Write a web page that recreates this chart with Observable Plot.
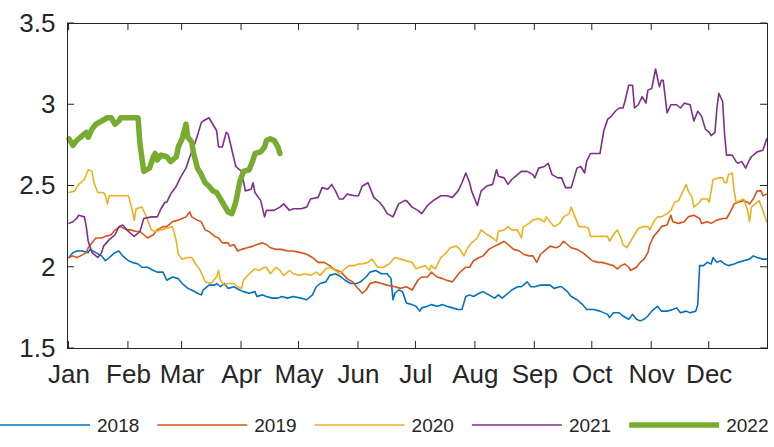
<!DOCTYPE html>
<html><head><meta charset="utf-8">
<script src="https://cdn.jsdelivr.net/npm/d3@7"></script>
<script src="https://cdn.jsdelivr.net/npm/@observablehq/plot@0.6"></script>
<style>body{margin:0;background:#fff;font-family:"Liberation Sans",Arial,sans-serif}#legend svg,#chart svg{display:block}</style>
</head><body><div id="chart"></div><div id="legend"></div>
<script>
const years = ["2018","2019","2020","2021","2022"];
const colors = ["#0072BD","#D95319","#EDB120","#7E2F8E","#77AC30"];
const widths = [1.6,1.6,1.6,1.6,5.5];
const monthDays = [1,32,60,91,121,152,182,213,244,274,305,335];
const monthLabels = ["Jan","Feb","Mar","Apr","May","Jun","Jul","Aug","Sep","Oct","Nov","Dec"];
const yTicks = [1.5,2,2.5,3,3.5];

// [day of year, value]
const s2018 = [[1,2.06],[3,2.09],[5,2.10],[8,2.10],[11,2.09],[12,2.11],[15,2.09],[18,2.07],[20,2.04],[22,2.06],[25,2.09],[27,2.10],[29,2.07],[32,2.04],[34,2.03],[37,2.02],[39,2.00],[42,2.00],[45,1.98],[47,1.97],[50,1.97],[52,1.92],[55,1.94],[58,1.93],[60,1.90],[63,1.87],[65,1.86],[68,1.84],[70,1.83],[71,1.86],[74,1.89],[77,1.89],[78,1.90],[80,1.88],[82,1.90],[84,1.87],[87,1.88],[90,1.86],[92,1.85],[95,1.84],[98,1.85],[99,1.82],[102,1.83],[104,1.82],[107,1.81],[110,1.81],[112,1.82],[115,1.81],[118,1.82],[122,1.81],[125,1.80],[128,1.83],[130,1.88],[132,1.90],[135,1.91],[137,1.95],[140,1.96],[143,1.94],[145,1.92],[148,1.90],[151,1.90],[153,1.91],[156,1.94],[158,1.97],[161,1.98],[164,1.96],[167,1.96],[169,1.93],[170,1.80],[171,1.84],[173,1.86],[175,1.85],[177,1.78],[180,1.77],[182,1.76],[184,1.73],[185,1.75],[188,1.76],[190,1.77],[193,1.76],[196,1.77],[198,1.76],[201,1.75],[204,1.74],[206,1.74],[208,1.82],[210,1.83],[212,1.82],[215,1.84],[217,1.85],[220,1.83],[223,1.81],[225,1.83],[227,1.81],[230,1.84],[232,1.86],[235,1.88],[237,1.88],[240,1.91],[242,1.88],[244,1.88],[247,1.89],[250,1.89],[252,1.89],[254,1.87],[257,1.88],[258,1.88],[261,1.85],[263,1.82],[266,1.80],[269,1.77],[271,1.74],[275,1.74],[278,1.73],[282,1.71],[283,1.69],[285,1.72],[288,1.72],[290,1.70],[293,1.68],[295,1.71],[297,1.68],[299,1.67],[301,1.68],[303,1.70],[305,1.73],[308,1.76],[310,1.73],[313,1.73],[316,1.74],[318,1.75],[320,1.72],[323,1.73],[325,1.72],[328,1.73],[329,1.77],[330,2.01],[332,2.01],[334,2.03],[336,2.02],[337,2.06],[339,2.03],[341,2.04],[343,2.02],[345,2.01],[348,2.02],[350,2.03],[353,2.04],[356,2.05],[358,2.07],[360,2.06],[363,2.05],[365,2.05]];
const s2019 = [[1,2.06],[3,2.07],[5,2.06],[7,2.07],[10,2.09],[11,2.12],[13,2.15],[15,2.18],[18,2.18],[20,2.19],[23,2.20],[25,2.23],[28,2.25],[31,2.23],[33,2.23],[36,2.22],[38,2.22],[42,2.18],[45,2.20],[47,2.23],[50,2.25],[52,2.25],[55,2.28],[58,2.29],[60,2.30],[62,2.31],[64,2.34],[65,2.31],[68,2.29],[70,2.28],[72,2.23],[74,2.22],[77,2.19],[79,2.18],[81,2.15],[84,2.15],[85,2.13],[87,2.14],[89,2.10],[91,2.11],[94,2.12],[97,2.13],[99,2.14],[102,2.15],[104,2.14],[106,2.12],[109,2.11],[112,2.11],[115,2.10],[118,2.10],[122,2.09],[125,2.08],[128,2.06],[131,2.03],[134,2.03],[137,2.01],[139,1.99],[143,1.97],[146,1.93],[149,1.91],[151,1.88],[154,1.84],[156,1.86],[158,1.90],[161,1.91],[164,1.90],[167,1.89],[171,1.88],[174,1.87],[177,1.88],[180,1.86],[183,1.92],[185,1.94],[188,1.94],[190,1.97],[193,1.94],[196,1.93],[198,1.92],[201,1.91],[203,1.94],[205,1.97],[208,2.00],[210,2.00],[212,2.04],[215,2.06],[217,2.07],[220,2.11],[223,2.13],[225,2.14],[228,2.16],[230,2.14],[233,2.11],[236,2.10],[238,2.08],[241,2.07],[243,2.07],[245,2.03],[247,2.08],[250,2.11],[252,2.13],[255,2.12],[257,2.13],[259,2.16],[261,2.14],[263,2.12],[266,2.11],[269,2.09],[271,2.07],[274,2.04],[277,2.03],[279,2.03],[282,2.02],[285,2.01],[287,1.99],[289,2.01],[291,2.02],[293,2.00],[294,1.98],[297,2.00],[299,2.03],[301,2.05],[303,2.09],[304,2.14],[306,2.19],[309,2.23],[310,2.25],[313,2.26],[315,2.32],[316,2.28],[319,2.27],[322,2.28],[324,2.31],[327,2.32],[330,2.30],[331,2.27],[334,2.28],[336,2.27],[339,2.29],[342,2.30],[344,2.30],[346,2.34],[348,2.39],[350,2.40],[353,2.41],[355,2.40],[356,2.39],[358,2.42],[360,2.47],[362,2.47],[363,2.44],[365,2.45]];
const s2020 = [[1,2.46],[4,2.47],[6,2.51],[9,2.54],[11,2.60],[13,2.59],[14,2.52],[16,2.46],[19,2.46],[20,2.44],[21,2.39],[22,2.44],[32,2.44],[34,2.35],[35,2.29],[36,2.36],[39,2.37],[41,2.32],[44,2.23],[46,2.22],[49,2.23],[52,2.24],[55,2.25],[57,2.16],[58,2.08],[60,2.05],[63,2.06],[65,2.06],[67,2.02],[69,1.99],[71,1.94],[72,1.91],[75,1.90],[78,1.94],[79,1.98],[80,1.92],[82,1.89],[84,1.90],[87,1.90],[89,1.88],[91,1.87],[92,1.92],[95,1.96],[98,1.99],[100,1.98],[103,2.00],[104,2.00],[106,1.96],[109,2.00],[111,1.98],[113,1.95],[116,1.98],[118,1.96],[121,1.95],[124,1.96],[127,1.95],[130,1.97],[132,1.95],[135,1.99],[137,2.00],[140,1.98],[142,1.96],[144,1.98],[147,2.01],[150,2.01],[152,2.02],[154,2.02],[157,2.03],[159,2.05],[162,2.00],[165,2.00],[168,2.02],[171,2.06],[174,2.05],[177,2.04],[180,2.03],[182,1.99],[184,2.00],[187,2.01],[189,1.98],[190,2.01],[192,1.99],[195,2.06],[197,2.08],[200,2.12],[203,2.13],[205,2.11],[207,2.07],[209,2.12],[211,2.15],[214,2.18],[216,2.23],[218,2.21],[222,2.18],[224,2.16],[225,2.22],[228,2.23],[230,2.25],[232,2.23],[235,2.23],[237,2.18],[238,2.25],[241,2.27],[243,2.29],[246,2.30],[249,2.28],[250,2.31],[252,2.28],[254,2.25],[257,2.27],[259,2.31],[262,2.33],[263,2.37],[265,2.31],[267,2.25],[270,2.25],[272,2.24],[273,2.19],[278,2.19],[282,2.19],[283,2.16],[285,2.20],[287,2.23],[289,2.18],[290,2.14],[292,2.12],[294,2.16],[296,2.20],[298,2.24],[301,2.25],[303,2.25],[304,2.23],[306,2.28],[308,2.31],[310,2.31],[313,2.33],[315,2.35],[317,2.40],[319,2.41],[321,2.46],[323,2.51],[324,2.47],[326,2.43],[327,2.37],[330,2.40],[331,2.42],[334,2.42],[335,2.40],[336,2.47],[337,2.54],[340,2.55],[342,2.55],[343,2.52],[344,2.52],[345,2.57],[347,2.58],[348,2.47],[349,2.40],[351,2.41],[353,2.42],[355,2.35],[356,2.28],[357,2.37],[359,2.39],[361,2.41],[363,2.35],[365,2.28]];
const s2021 = [[1,2.27],[3,2.28],[5,2.30],[6,2.32],[9,2.31],[10,2.25],[11,2.16],[13,2.09],[16,2.06],[18,2.09],[19,2.13],[22,2.17],[25,2.20],[27,2.25],[29,2.26],[32,2.22],[35,2.19],[38,2.22],[40,2.30],[44,2.31],[47,2.31],[49,2.36],[51,2.40],[52,2.40],[54,2.45],[57,2.50],[59,2.55],[62,2.61],[64,2.68],[66,2.74],[68,2.81],[70,2.89],[71,2.90],[74,2.92],[76,2.88],[78,2.84],[79,2.74],[81,2.74],[83,2.83],[84,2.82],[86,2.72],[88,2.62],[91,2.59],[93,2.47],[96,2.48],[97,2.52],[98,2.46],[101,2.41],[103,2.31],[104,2.35],[108,2.35],[111,2.37],[113,2.39],[116,2.35],[118,2.36],[122,2.36],[125,2.37],[127,2.42],[131,2.43],[133,2.49],[136,2.48],[138,2.51],[140,2.47],[142,2.42],[144,2.42],[146,2.45],[150,2.44],[152,2.44],[154,2.50],[157,2.52],[158,2.49],[160,2.43],[163,2.40],[165,2.37],[167,2.33],[170,2.31],[173,2.39],[176,2.41],[177,2.41],[180,2.37],[183,2.35],[185,2.33],[188,2.38],[191,2.41],[195,2.44],[198,2.44],[201,2.43],[204,2.47],[206,2.52],[208,2.58],[210,2.52],[211,2.47],[214,2.38],[216,2.47],[219,2.50],[222,2.51],[224,2.60],[225,2.56],[228,2.55],[230,2.51],[232,2.54],[235,2.57],[237,2.59],[240,2.59],[243,2.57],[244,2.55],[246,2.61],[249,2.62],[251,2.64],[253,2.57],[256,2.55],[258,2.55],[260,2.49],[263,2.49],[266,2.61],[268,2.62],[270,2.58],[271,2.65],[273,2.70],[278,2.70],[280,2.84],[282,2.91],[284,2.93],[286,2.96],[288,2.98],[290,2.98],[291,3.02],[293,3.12],[295,3.12],[296,2.98],[298,3.00],[300,3.05],[302,3.01],[303,3.09],[305,3.10],[307,3.22],[309,3.11],[310,3.15],[311,3.15],[313,2.95],[315,3.00],[318,3.00],[320,2.98],[322,3.01],[325,3.00],[327,2.90],[329,2.96],[331,2.93],[333,2.85],[335,2.83],[336,2.81],[338,2.83],[339,2.98],[340,3.07],[342,3.02],[343,2.82],[344,2.69],[347,2.69],[349,2.65],[350,2.64],[352,2.65],[354,2.61],[356,2.66],[357,2.68],[360,2.71],[363,2.72],[365,2.79]];
const s2022 = [[1,2.79],[3,2.75],[5,2.78],[8,2.81],[10,2.83],[11,2.80],[13,2.85],[15,2.88],[18,2.90],[21,2.92],[23,2.92],[25,2.88],[27,2.90],[28,2.92],[37,2.92],[38,2.76],[40,2.59],[43,2.61],[45,2.68],[46,2.70],[47,2.66],[49,2.69],[52,2.68],[54,2.65],[57,2.68],[58,2.74],[60,2.79],[62,2.88],[63,2.80],[65,2.77],[66,2.70],[68,2.61],[70,2.57],[72,2.52],[74,2.50],[76,2.47],[78,2.46],[80,2.42],[82,2.38],[84,2.34],[86,2.33],[88,2.40],[90,2.52],[92,2.59],[95,2.60],[97,2.66],[98,2.70],[101,2.71],[103,2.74],[104,2.78],[106,2.79],[108,2.78],[110,2.74],[111,2.70]];
const series = [s2018, s2019, s2020, s2021, s2022];

const ink = "#262626";
const font = "Liberation Sans, Arial, Helvetica, sans-serif";

const plot = Plot.plot({
  width: 774, height: 400,
  marginLeft: 67, marginRight: 7, marginTop: 23, marginBottom: 52,
  style: {fontFamily: font, color: ink, background: "#fff"},
  x: {domain: [0.2, 365.4]},
  y: {domain: [1.5, 3.5]},
  marks: [
    ...series.map((s, i) => Plot.line(s, {x: d => d[0], y: d => d[1], stroke: colors[i], strokeWidth: widths[i], strokeLinejoin: "round"})),
    Plot.frame({stroke: ink, strokeWidth: 1}),
    Plot.axisX(monthDays, {tickSize: 0, tickPadding: 16, tickFormat: d => monthLabels[monthDays.indexOf(d)], fontSize: 26, label: null, fill: ink}),
    Plot.axisY(yTicks, {tickSize: 0, tickPadding: 12, tickFormat: d => String(d), fontSize: 26, label: null, fill: ink})
  ]
});
document.getElementById("chart").appendChild(plot);

// inward ticks on all four sides, positioned via Plot's scales
const sx = plot.scale("x"), sy = plot.scale("y");
const xs = d3.scaleLinear().domain(sx.domain).range(sx.range);
const ys = d3.scaleLinear().domain(sy.domain).range(sy.range);
const [x0, x1] = sx.range, [yb, yt] = sy.range;
const g = d3.select(plot).append("g").attr("stroke", ink).attr("stroke-width", 1);
const tl = 7;
monthDays.forEach(d => {
  const x = xs(d);
  g.append("line").attr("x1", x).attr("x2", x).attr("y1", yb).attr("y2", yb - tl);
  g.append("line").attr("x1", x).attr("x2", x).attr("y1", yt).attr("y2", yt + tl);
});
yTicks.forEach(v => {
  const y = ys(v);
  g.append("line").attr("x1", x0).attr("x2", x0 + tl).attr("y1", y).attr("y2", y);
  g.append("line").attr("x1", x1).attr("x2", x1 - tl).attr("y1", y).attr("y2", y);
});

// legend below the chart
const lg = d3.select("#legend").append("svg").attr("width", 774).attr("height", 47);
years.forEach((yr, i) => {
  const x = i * 157.3;
  lg.append("line").attr("x1", x).attr("x2", x + 90).attr("y1", 25).attr("y2", 25)
    .attr("stroke", colors[i]).attr("stroke-width", widths[i]);
  lg.append("text").attr("x", x + 97).attr("y", 32).attr("font-size", 19)
    .attr("font-family", font).attr("fill", ink).text(yr);
});
</script></body></html>
